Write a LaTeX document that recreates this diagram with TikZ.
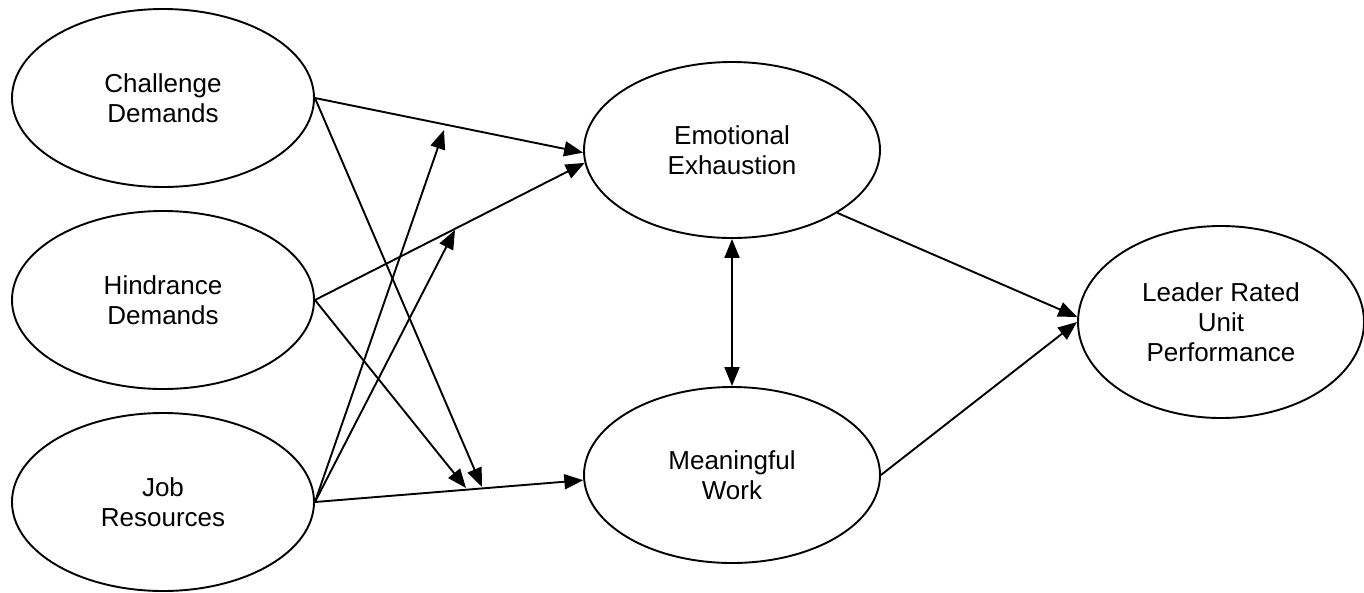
\documentclass[tikz,border=0pt]{standalone}
\usepackage{fontspec}
\setmainfont{Liberation Sans}
\usetikzlibrary{shapes.geometric,arrows.meta}
\begin{document}
\begin{tikzpicture}[x=1pt, y=-1pt, line width=1.9pt, >={Triangle[length=19pt,width=15pt]},
	construct/.style={ellipse, draw, inner sep=0pt, align=center, font=\fontsize{26}{30}\selectfont}]
	\useasboundingbox (0,0) rectangle (1364,592);
	\node[construct, minimum width=302pt, minimum height=178pt] (cd) at (163,98) {Challenge\\Demands};
	\node[construct, minimum width=302pt, minimum height=178pt] (hd) at (163,300) {Hindrance\\Demands};
	\node[construct, minimum width=302pt, minimum height=178pt] (jr) at (163,502) {Job\\Resources};
	\node[construct, minimum width=296pt, minimum height=176pt] (ee) at (732,150) {Emotional\\Exhaustion};
	\node[construct, minimum width=296pt, minimum height=176pt] (mw) at (732,475) {Meaningful\\Work};
	\node[construct, minimum width=286pt, minimum height=192pt] (ld) at (1221,322) {Leader Rated\\Unit\\Performance};
	\coordinate (cdmod) at (444,130);
	\coordinate (hdmod) at (455,230);
	\coordinate (jrmod1) at (466,488);
	\coordinate (jrmod2) at (482,487);
	\foreach \from/\to in {cd.east/ee.181, cd.east/jrmod2, hd.east/ee.185, hd.east/jrmod1,
		jr.east/cdmod, jr.east/hdmod, jr.east/mw.182, ee.south east/ld.178, mw.east/ld.west}
		\draw[->] (\from) -- (\to);
	\draw[<->] (ee) -- (mw);
\end{tikzpicture}
\end{document}
